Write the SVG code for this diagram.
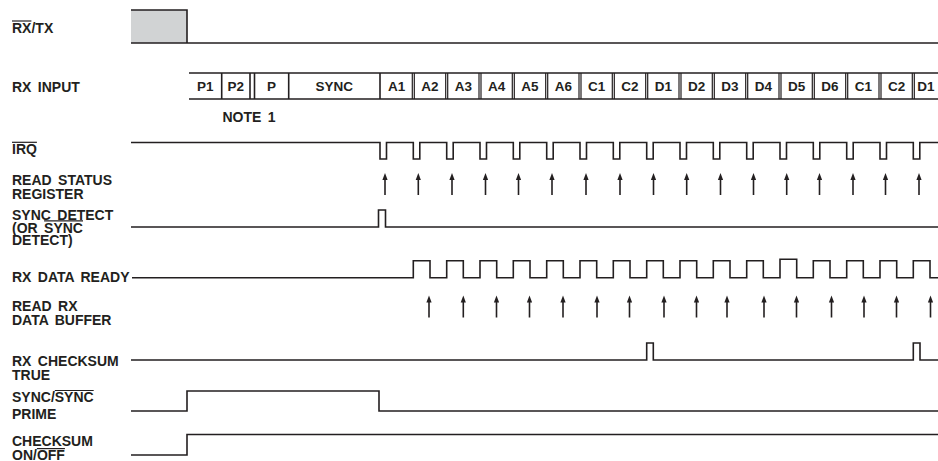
<svg xmlns="http://www.w3.org/2000/svg" xmlns:xlink="http://www.w3.org/1999/xlink" width="938" height="461" viewBox="0 0 938 461">
<style>
.w{fill:none;stroke:#231f20;stroke-width:1.6}
.d{fill:none;stroke:#231f20;stroke-width:1.2}
.ol{stroke:#231f20;stroke-width:1.2}
text{font-family:"Liberation Sans",Arial,sans-serif;font-weight:bold;fill:#231f20}
.lb{font-size:14px;word-spacing:2.5px}
.c{font-size:13.5px;text-anchor:middle}
</style>
<defs>
<g id="up"><line x1="0" y1="5" x2="0" y2="22" stroke="#231f20" stroke-width="1.6"/><path d="M0,0 L-2.6,7 L2.6,7Z" fill="#231f20"/></g>
</defs>
<rect width="938" height="461" fill="#fff"/>

<g id="labels">
<text class="lb" x="12" y="32.5">RX/TX</text><line class="ol" x1="12" y1="21" x2="31.4" y2="21"/>
<text class="lb" x="12" y="91.5">RX INPUT</text>
<text class="lb" x="12" y="153.5">IRQ</text><line class="ol" x1="12" y1="142.3" x2="36.9" y2="142.3"/>
<text class="lb" x="12" y="185">READ STATUS</text>
<text class="lb" x="12" y="198.5">REGISTER</text>
<text class="lb" x="12" y="220">SYNC DETECT</text>
<text class="lb" x="12" y="232.5">(OR SYNC</text><line class="ol" x1="44.1" y1="220.8" x2="83" y2="220.8"/>
<text class="lb" x="12" y="244.5">DETECT)</text>
<text class="lb" x="12" y="281.5">RX DATA READY</text>
<text class="lb" x="12" y="310.5">READ RX</text>
<text class="lb" x="12" y="324.5">DATA BUFFER</text>
<text class="lb" x="12" y="365.5">RX CHECKSUM</text>
<text class="lb" x="12" y="379.5">TRUE</text>
<text class="lb" x="12" y="401.5">SYNC/SYNC</text><line class="ol" x1="54.8" y1="390.5" x2="93.7" y2="390.5"/>
<text class="lb" x="12" y="418.5">PRIME</text>
<text class="lb" x="12" y="446">CHECKSUM</text>
<text class="lb" x="12" y="459.5">ON/OFF</text><line class="ol" x1="36.9" y1="448.6" x2="64.9" y2="448.6"/>
</g>

<g id="rxtx">
<rect x="131" y="10" width="56" height="33" fill="#d1d3d4"/>
<path class="w" d="M131,10 H187 V43 M131,43 H938"/>
</g>

<g id="rxinput">
<path class="w" d="M189,73 H938 M189,99 H938"/>
<path class="w" d="M221.7,73 V99 M250,73 V99 M254.5,73 V99 M288.7,73 V99 M380,73 V99"/>
<path class="d" d="M412.3,73 V99 M414.3,73 V99 M445.7,73 V99 M447.7,73 V99 M479,73 V99 M481,73 V99 M512.3,73 V99 M514.3,73 V99 M545.7,73 V99 M547.7,73 V99 M579,73 V99 M581,73 V99 M612.3,73 V99 M614.3,73 V99 M645.7,73 V99 M647.7,73 V99 M679,73 V99 M681,73 V99 M712.3,73 V99 M714.3,73 V99 M745.7,73 V99 M747.7,73 V99 M779,73 V99 M781,73 V99 M812.3,73 V99 M814.3,73 V99 M845.7,73 V99 M847.7,73 V99 M879,73 V99 M881,73 V99 M912.3,73 V99 M914.3,73 V99"/>
<text class="c" x="205.3" y="91">P1</text>
<text class="c" x="235.8" y="91">P2</text>
<text class="c" x="271.6" y="91">P</text>
<text class="c" x="334.3" y="91">SYNC</text>
<text class="c" x="396.7" y="91">A1</text>
<text class="c" x="430" y="91">A2</text>
<text class="c" x="463.3" y="91">A3</text>
<text class="c" x="496.7" y="91">A4</text>
<text class="c" x="530" y="91">A5</text>
<text class="c" x="563.3" y="91">A6</text>
<text class="c" x="596.7" y="91">C1</text>
<text class="c" x="630" y="91">C2</text>
<text class="c" x="663.3" y="91">D1</text>
<text class="c" x="696.7" y="91">D2</text>
<text class="c" x="730" y="91">D3</text>
<text class="c" x="763.3" y="91">D4</text>
<text class="c" x="796.7" y="91">D5</text>
<text class="c" x="830" y="91">D6</text>
<text class="c" x="863.3" y="91">C1</text>
<text class="c" x="896.7" y="91">C2</text>
<text class="c" x="926" y="91">D1</text>
<text class="lb" x="222.5" y="121.5">NOTE 1</text>
</g>

<g id="irq">
<path class="w" d="M131,142.5 H380 V159 H386.5 V142.5 H413.3 V159 H419.8 V142.5 H446.7 V159 H453.2 V142.5 H480 V159 H486.5 V142.5 H513.3 V159 H519.8 V142.5 H546.7 V159 H553.2 V142.5 H580 V159 H586.5 V142.5 H613.3 V159 H619.8 V142.5 H646.7 V159 H653.2 V142.5 H680 V159 H686.5 V142.5 H713.3 V159 H719.8 V142.5 H746.7 V159 H753.2 V142.5 H780 V159 H786.5 V142.5 H813.3 V159 H819.8 V142.5 H846.7 V159 H853.2 V142.5 H880 V159 H886.5 V142.5 H913.3 V159 H919.8 V142.5 H938"/>
</g>

<g id="readstatus">
<use xlink:href="#up" x="385" y="173"/><use xlink:href="#up" x="418.3" y="173"/><use xlink:href="#up" x="452" y="173"/><use xlink:href="#up" x="485.5" y="173"/><use xlink:href="#up" x="518.5" y="173"/><use xlink:href="#up" x="552" y="173"/><use xlink:href="#up" x="586" y="173"/><use xlink:href="#up" x="620" y="173"/><use xlink:href="#up" x="653.5" y="173"/><use xlink:href="#up" x="686.7" y="173"/><use xlink:href="#up" x="720.5" y="173"/><use xlink:href="#up" x="753.5" y="173"/><use xlink:href="#up" x="786.7" y="173"/><use xlink:href="#up" x="819.5" y="173"/><use xlink:href="#up" x="853" y="173"/><use xlink:href="#up" x="885.5" y="173"/><use xlink:href="#up" x="919" y="173"/>
</g>

<g id="syncdetect">
<path class="w" d="M131,227 H378.5 V210 H385.5 V227 H938"/>
</g>

<g id="rxdataready">
<path class="w" d="M132,277.7 H413.3 V260.7 H430 V277.7 H446.7 V260.7 H463.3 V277.7 H480 V260.7 H496.7 V277.7 H513.3 V260.7 H530 V277.7 H546.7 V260.7 H563.3 V277.7 H580 V260.7 H596.7 V277.7 H613.3 V260.7 H630 V277.7 H646.7 V260.7 H663.3 V277.7 H680 V260.7 H696.7 V277.7 H713.3 V260.7 H730 V277.7 H746.7 V260.7 H763.3 V277.7 H780 V259.3 H796.7 V277.7 H813.3 V260.7 H830 V277.7 H846.7 V260.7 H863.3 V277.7 H880 V260.7 H896.7 V277.7 H913.3 V260.7 H930 V277.7 H938"/>
</g>

<g id="readrx">
<use xlink:href="#up" x="429" y="295.5"/><use xlink:href="#up" x="463.3" y="295.5"/><use xlink:href="#up" x="496.5" y="295.5"/><use xlink:href="#up" x="529.5" y="295.5"/><use xlink:href="#up" x="563" y="295.5"/><use xlink:href="#up" x="597" y="295.5"/><use xlink:href="#up" x="629.5" y="295.5"/><use xlink:href="#up" x="664" y="295.5"/><use xlink:href="#up" x="696.5" y="295.5"/><use xlink:href="#up" x="727" y="295.5"/><use xlink:href="#up" x="764" y="295.5"/><use xlink:href="#up" x="796.5" y="295.5"/><use xlink:href="#up" x="831.5" y="295.5"/><use xlink:href="#up" x="864" y="295.5"/><use xlink:href="#up" x="896.5" y="295.5"/><use xlink:href="#up" x="930.5" y="295.5"/>
</g>

<g id="rxchecksum">
<path class="w" d="M131,360 H646.7 V343 H653.3 V360 H913.3 V343 H920 V360 H938"/>
</g>

<g id="syncprime">
<path class="w" d="M131,411 H187 V391 H379 V411 H938"/>
</g>

<g id="checksumonoff">
<path class="w" d="M131,455 H187 V434.5 H938"/>
</g>
</svg>
